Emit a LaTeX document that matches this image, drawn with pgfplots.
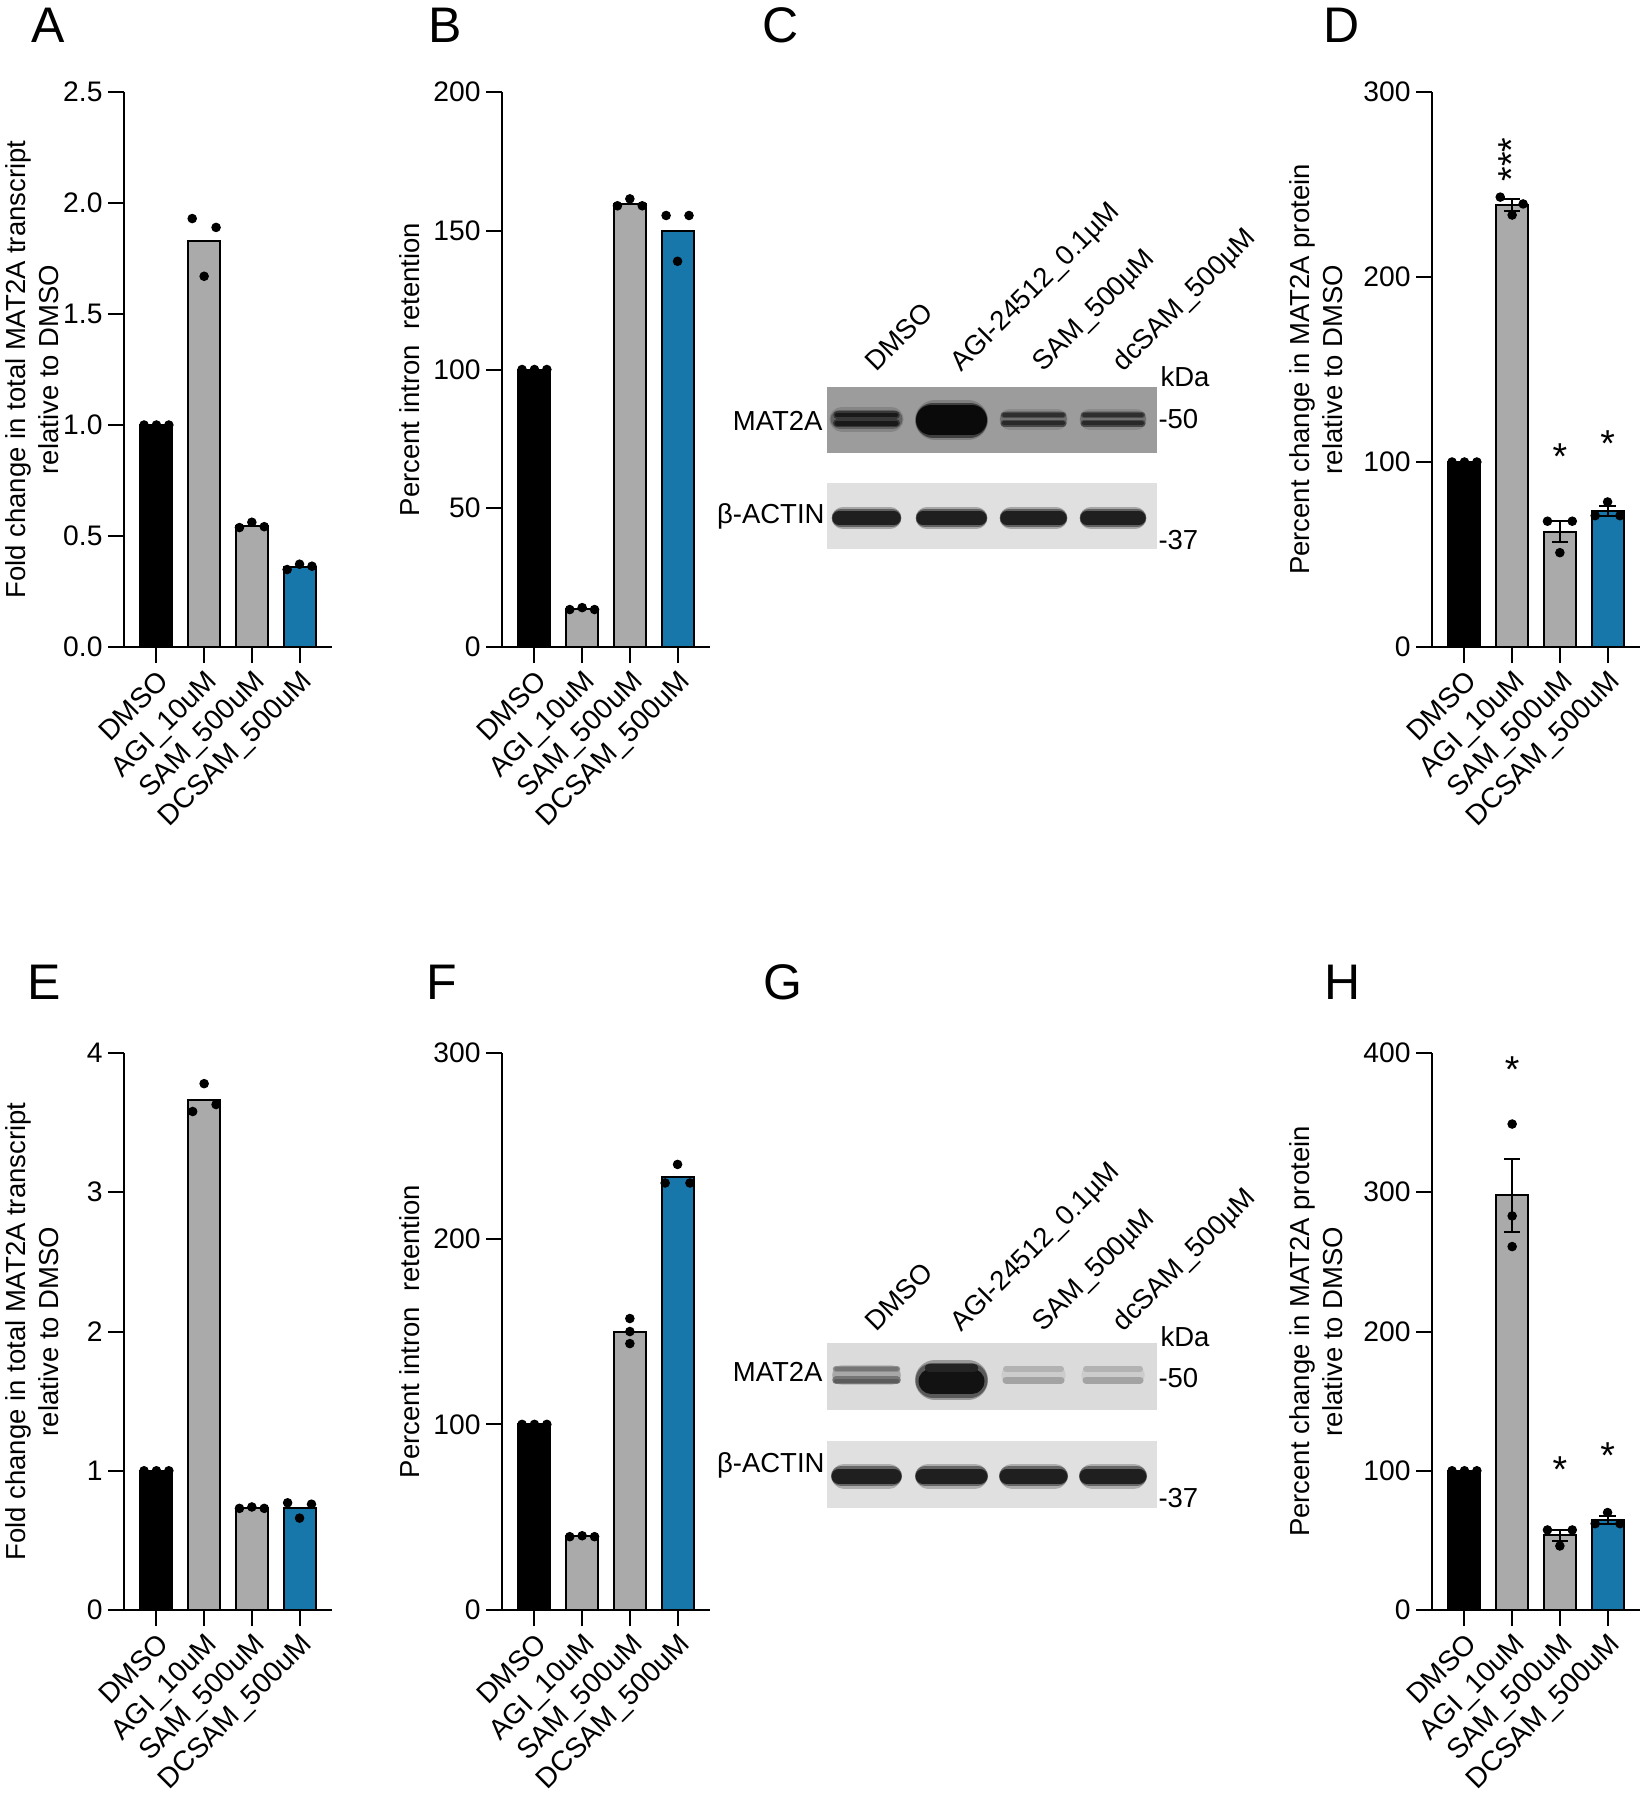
\documentclass[border=0pt]{standalone}
\usepackage{fontspec}
\setmainfont{Liberation Sans}
\usepackage{pgfplots}
\pgfplotsset{compat=1.18}

\definecolor{bgray}{RGB}{170,170,170}
\definecolor{bblue}{RGB}{23,118,170}

\newcommand{\band}[5]{\addplot[line width=#4, draw=#5, line cap=round, mark=none] coordinates {(#1,#3) (#2,#3)};}
% error bar: x, low, high
\newcommand{\ebar}[3]{%
  \addplot[black, line width=0.8pt, mark=none] coordinates {(#1,#2) (#1,#3)};
  \addplot[black, line width=0.8pt, mark=none] coordinates {({#1-0.17},#3) ({#1+0.17},#3)};
  \addplot[black, line width=0.8pt, mark=none] coordinates {({#1-0.17},#2) ({#1+0.17},#2)};
}

\pgfplotsset{
  barchart/.style={
    scale only axis, width=83.2pt,
    xmin=-0.68, xmax=3.68, ymin=0,
    axis x line*=bottom, axis y line*=left,
    axis line style={line width=0.8pt, black},
    major tick style={line width=0.8pt, black},
    major tick length=6.4pt,
    tick align=outside,
    xtick={0,1,2,3},
    xticklabels={DMSO,AGI\_10uM,SAM\_500uM,DCSAM\_500uM},
    xticklabel style={rotate=45, anchor=north east, inner sep=1.5pt, font=\fontsize{11.3}{13}\selectfont},
    yticklabel style={font=\fontsize{11.3}{13}\selectfont, inner sep=2pt},
    ylabel style={at={(axis description cs:-0.4423,0.5)}, anchor=center, font=\fontsize{11}{13.2}\selectfont, align=center},
    enlargelimits=false, clip=false,
  },
  mybar/.style={ybar, bar width=0.67, bar shift=0pt, draw=black, line width=0.8pt, fill=#1},
  mydots/.style={only marks, mark=*, mark size=1.7pt, black, mark options={fill=black, draw=black}},
  blot/.style={scale only axis, width=132pt, xmin=827, xmax=1157, y dir=reverse, hide axis, clip=false},
}
\tikzset{
  star/.style={font=\fontsize{15}{15}\selectfont, inner sep=0pt, yshift=-3.3pt},
  wl/.style={font=\fontsize{11}{13}\selectfont, inner sep=0pt},
  letter/.style={font=\fontsize{20}{24}\selectfont, inner sep=0pt, anchor=center},
}

\begin{document}
\begin{tikzpicture}
\path[use as bounding box] (0pt,0pt) rectangle (657.6pt,-720pt);

% panel letters
\node[letter] at (19.2pt,-10pt) {A};
\node[letter] at (178pt,-10pt) {B};
\node[letter] at (312.4pt,-10pt) {C};
\node[letter] at (536.8pt,-10pt) {D};
\node[letter] at (17.6pt,-392.8pt) {E};
\node[letter] at (176.8pt,-392.8pt) {F};
\node[letter] at (313.2pt,-392.8pt) {G};
\node[letter] at (537.2pt,-392.8pt) {H};

% ---------------- A ----------------
\begin{axis}[barchart, at={(49.6pt,-258.8pt)}, anchor=south west, height=222pt,
  ymax=2.5, ytick={0,0.5,1,1.5,2,2.5}, yticklabels={0.0,0.5,1.0,1.5,2.0,2.5},
  ylabel={Fold change in total MAT2A transcript\\relative to DMSO}]
\addplot[mybar=black] coordinates {(0,1.0)};
\addplot[mybar=bgray] coordinates {(1,1.83)};
\addplot[mybar=bgray] coordinates {(2,0.547)};
\addplot[mybar=bblue] coordinates {(3,0.362)};
\addplot[mydots] coordinates {(-0.26,1) (0,1) (0.26,1) (0.75,1.93) (1.25,1.89) (1,1.67) (1.74,0.538) (2,0.562) (2.26,0.542) (2.74,0.349) (3,0.373) (3.26,0.364)};
\end{axis}

% ---------------- B ----------------
\begin{axis}[barchart, at={(200.8pt,-258.8pt)}, anchor=south west, height=222pt,
  ymax=200, ytick={0,50,100,150,200}, yticklabels={0,50,100,150,200},
  ylabel={Percent intron\ \ retention}]
\addplot[mybar=black] coordinates {(0,100)};
\addplot[mybar=bgray] coordinates {(1,13.7)};
\addplot[mybar=bgray] coordinates {(2,159.7)};
\addplot[mybar=bblue] coordinates {(3,150)};
\addplot[mydots] coordinates {(-0.26,100) (0,100) (0.26,100) (0.74,13.5) (1,14.2) (1.26,13.5) (1.74,159) (2,161.5) (2.26,159) (2.76,155.5) (3.24,155.5) (3,139)};
\end{axis}

% ---------------- C (blot) ----------------
\begin{axis}[blot, at={(330.8pt,-154.8pt)}, anchor=north west, height=64.8pt, ymin=387, ymax=549]
\addplot[fill=black!39, draw=none] coordinates {(827,387) (1157,387) (1157,453) (827,453)};
\addplot[fill=black!12, draw=none] coordinates {(827,483) (1157,483) (1157,549) (827,549)};
% MAT2A
\band{842}{891}{419}{10pt}{black!48}
\band{840}{893}{419}{7.6pt}{black!62}
\band{837}{896}{415}{3pt}{black!78}
\band{837}{896}{423}{3.2pt}{black!78}
\band{837}{896}{415}{1.8pt}{black!90}
\band{837}{896}{423}{2pt}{black!90}
\band{935}{968}{420}{16pt}{black!50}
\band{933}{970}{420}{14pt}{black!75}
\band{931}{972}{420}{12pt}{black!96}
\band{1010}{1057}{419}{8.4pt}{black!46}
\band{1008}{1059}{419}{6.4pt}{black!56}
\band{1004}{1063}{415}{2.6pt}{black!70}
\band{1004}{1063}{423}{2.8pt}{black!72}
\band{1004}{1063}{415}{1.4pt}{black!82}
\band{1004}{1063}{423}{1.6pt}{black!84}
\band{1090}{1136}{419}{8.4pt}{black!46}
\band{1088}{1138}{419}{6.4pt}{black!56}
\band{1084}{1142}{415}{2.6pt}{black!70}
\band{1084}{1142}{423}{2.8pt}{black!72}
\band{1084}{1142}{415}{1.4pt}{black!82}
\band{1084}{1142}{423}{1.6pt}{black!84}
% actin
\band{843}{890}{518}{9pt}{black!35}
\band{841}{892}{518}{7.4pt}{black!62}
\band{839}{894}{518}{5.4pt}{black!88}
\band{927}{976}{518}{9pt}{black!35}
\band{925}{978}{518}{7.4pt}{black!62}
\band{923}{980}{518}{5.4pt}{black!88}
\band{1011}{1056}{518}{9pt}{black!35}
\band{1009}{1058}{518}{7.4pt}{black!62}
\band{1007}{1060}{518}{5.4pt}{black!88}
\band{1091}{1135}{518}{9pt}{black!35}
\band{1089}{1137}{518}{7.4pt}{black!62}
\band{1087}{1139}{518}{5.4pt}{black!88}
% labels
\node[wl, anchor=east] at (axis cs:823,421) {MAT2A};
\node[wl, anchor=east] at (axis cs:825,516) {β-ACTIN};
\node[wl, anchor=base west] at (axis cs:1160,386) {kDa};
\node[wl, anchor=west] at (axis cs:1158,419) {-50};
\node[wl, anchor=west] at (axis cs:1158,540) {-37};
\node[wl, rotate=45, anchor=base west] at (axis cs:876,373) {DMSO};
\node[wl, rotate=45, anchor=base west] at (axis cs:961,373) {AGI-24512\_0.1µM};
\node[wl, rotate=45, anchor=base west] at (axis cs:1043,373) {SAM\_500µM};
\node[wl, rotate=45, anchor=base west] at (axis cs:1123,373) {dcSAM\_500µM};
\end{axis}

% ---------------- D ----------------
\begin{axis}[barchart, at={(572.8pt,-258.8pt)}, anchor=south west, height=222pt,
  ymax=300, ytick={0,100,200,300}, yticklabels={0,100,200,300},
  ylabel={Percent change in MAT2A protein\\relative to DMSO},
  ylabel style={at={(axis description cs:-0.555,0.5)}}]
\addplot[mybar=black] coordinates {(0,100)};
\addplot[mybar=bgray] coordinates {(1,238.7)};
\addplot[mybar=bgray] coordinates {(2,62.3)};
\addplot[mybar=bblue] coordinates {(3,73.5)};
\ebar{1}{235.5}{241.9}
\ebar{2}{56.6}{68.0}
\ebar{3}{71.0}{76.0}
\addplot[mydots] coordinates {(-0.26,100) (0,100) (0.26,100) (0.75,243.2) (1.23,239.5) (1,233.5) (1.74,68) (2.26,68) (2,51) (2.74,71) (3,78.4) (3.26,71)};
\node[star, rotate=90, yshift=3.3pt] at (axis cs:1.17,268) {***};
\node[star] at (axis cs:2,107.6) {*};
\node[star] at (axis cs:3,114.6) {*};
\end{axis}

% ---------------- E ----------------
\begin{axis}[barchart, at={(49.6pt,-644pt)}, anchor=south west, height=222.8pt,
  ymax=4, ytick={0,1,2,3,4}, yticklabels={0,1,2,3,4},
  ylabel={Fold change in total MAT2A transcript\\relative to DMSO}]
\addplot[mybar=black] coordinates {(0,1.0)};
\addplot[mybar=bgray] coordinates {(1,3.663)};
\addplot[mybar=bgray] coordinates {(2,0.733)};
\addplot[mybar=bblue] coordinates {(3,0.73)};
\addplot[mydots] coordinates {(-0.26,1) (0,1) (0.26,1) (0.76,3.58) (1,3.78) (1.25,3.63) (1.74,0.73) (2,0.74) (2.26,0.73) (2.75,0.77) (3,0.66) (3.25,0.76)};
\end{axis}

% ---------------- F ----------------
\begin{axis}[barchart, at={(200.8pt,-644pt)}, anchor=south west, height=222.8pt,
  ymax=300, ytick={0,100,200,300}, yticklabels={0,100,200,300},
  ylabel={Percent intron\ \ retention}]
\addplot[mybar=black] coordinates {(0,100)};
\addplot[mybar=bgray] coordinates {(1,39.7)};
\addplot[mybar=bgray] coordinates {(2,149.5)};
\addplot[mybar=bblue] coordinates {(3,233)};
\addplot[mydots] coordinates {(-0.26,100) (0,100) (0.26,100) (0.74,39.5) (1,40) (1.26,39.5) (2,157) (2,150) (2,143.5) (2.74,230) (3,240) (3.26,230)};
\end{axis}

% ---------------- G (blot) ----------------
\begin{axis}[blot, at={(330.8pt,-537.2pt)}, anchor=north west, height=66pt, ymin=1343, ymax=1508]
\addplot[fill=black!14, draw=none] coordinates {(827,1343) (1157,1343) (1157,1410) (827,1410)};
\addplot[fill=black!12, draw=none] coordinates {(827,1441) (1157,1441) (1157,1508) (827,1508)};
% MAT2A
\band{842}{891}{1375}{8pt}{black!26}
\band{840}{893}{1375}{6pt}{black!34}
\band{836}{897}{1369}{2.6pt}{black!44}
\band{836}{897}{1380}{3pt}{black!54}
\band{836}{897}{1369}{1.4pt}{black!54}
\band{836}{897}{1381}{1.8pt}{black!64}
\band{935}{968}{1380}{16pt}{black!40}
\band{933}{970}{1380}{14pt}{black!65}
\band{931}{972}{1381}{10pt}{black!93}
\band{929}{974}{1368}{3.4pt}{black!86}
\band{1010}{1057}{1375}{7pt}{black!20}
\band{1006}{1061}{1369}{2.4pt}{black!30}
\band{1006}{1061}{1380}{2.8pt}{black!36}
\band{1090}{1136}{1375}{7pt}{black!20}
\band{1086}{1140}{1369}{2.4pt}{black!30}
\band{1086}{1140}{1380}{2.8pt}{black!36}
% actin
\band{844}{889}{1476}{10pt}{black!32}
\band{841}{892}{1476}{8pt}{black!60}
\band{839}{894}{1476}{6pt}{black!88}
\band{928}{975}{1476}{10pt}{black!32}
\band{925}{978}{1476}{8pt}{black!60}
\band{923}{980}{1476}{6pt}{black!88}
\band{1012}{1055}{1476}{10pt}{black!32}
\band{1009}{1058}{1476}{8pt}{black!60}
\band{1007}{1060}{1476}{6pt}{black!88}
\band{1092}{1134}{1476}{10pt}{black!32}
\band{1089}{1137}{1476}{8pt}{black!60}
\band{1087}{1139}{1476}{6pt}{black!88}
% labels
\node[wl, anchor=east] at (axis cs:823,1372) {MAT2A};
\node[wl, anchor=east] at (axis cs:825,1465) {β-ACTIN};
\node[wl, anchor=base west] at (axis cs:1160,1346) {kDa};
\node[wl, anchor=west] at (axis cs:1158,1378) {-50};
\node[wl, anchor=west] at (axis cs:1158,1498) {-37};
\node[wl, rotate=45, anchor=base west] at (axis cs:876,1333) {DMSO};
\node[wl, rotate=45, anchor=base west] at (axis cs:961,1333) {AGI-24512\_0.1µM};
\node[wl, rotate=45, anchor=base west] at (axis cs:1043,1333) {SAM\_500µM};
\node[wl, rotate=45, anchor=base west] at (axis cs:1123,1333) {dcSAM\_500µM};
\end{axis}

% ---------------- H ----------------
\begin{axis}[barchart, at={(572.8pt,-644pt)}, anchor=south west, height=222.8pt,
  ymax=400, ytick={0,100,200,300,400}, yticklabels={0,100,200,300,400},
  ylabel={Percent change in MAT2A protein\\relative to DMSO},
  ylabel style={at={(axis description cs:-0.555,0.5)}}]
\addplot[mybar=black] coordinates {(0,100)};
\addplot[mybar=bgray] coordinates {(1,297.7)};
\addplot[mybar=bgray] coordinates {(2,53.7)};
\addplot[mybar=bblue] coordinates {(3,64.7)};
\ebar{1}{271.7}{323.7}
\ebar{2}{49.7}{57.7}
\ebar{3}{61.7}{67.7}
\addplot[mydots] coordinates {(-0.26,100) (0,100) (0.26,100) (1,349) (1,283) (1,261) (1.74,57.5) (2.26,57.5) (2,46) (2.74,62) (3,70) (3.26,62)};
\node[star] at (axis cs:1,394) {*};
\node[star] at (axis cs:2,106.6) {*};
\node[star] at (axis cs:3,116.5) {*};
\end{axis}
\end{tikzpicture}
\end{document}
